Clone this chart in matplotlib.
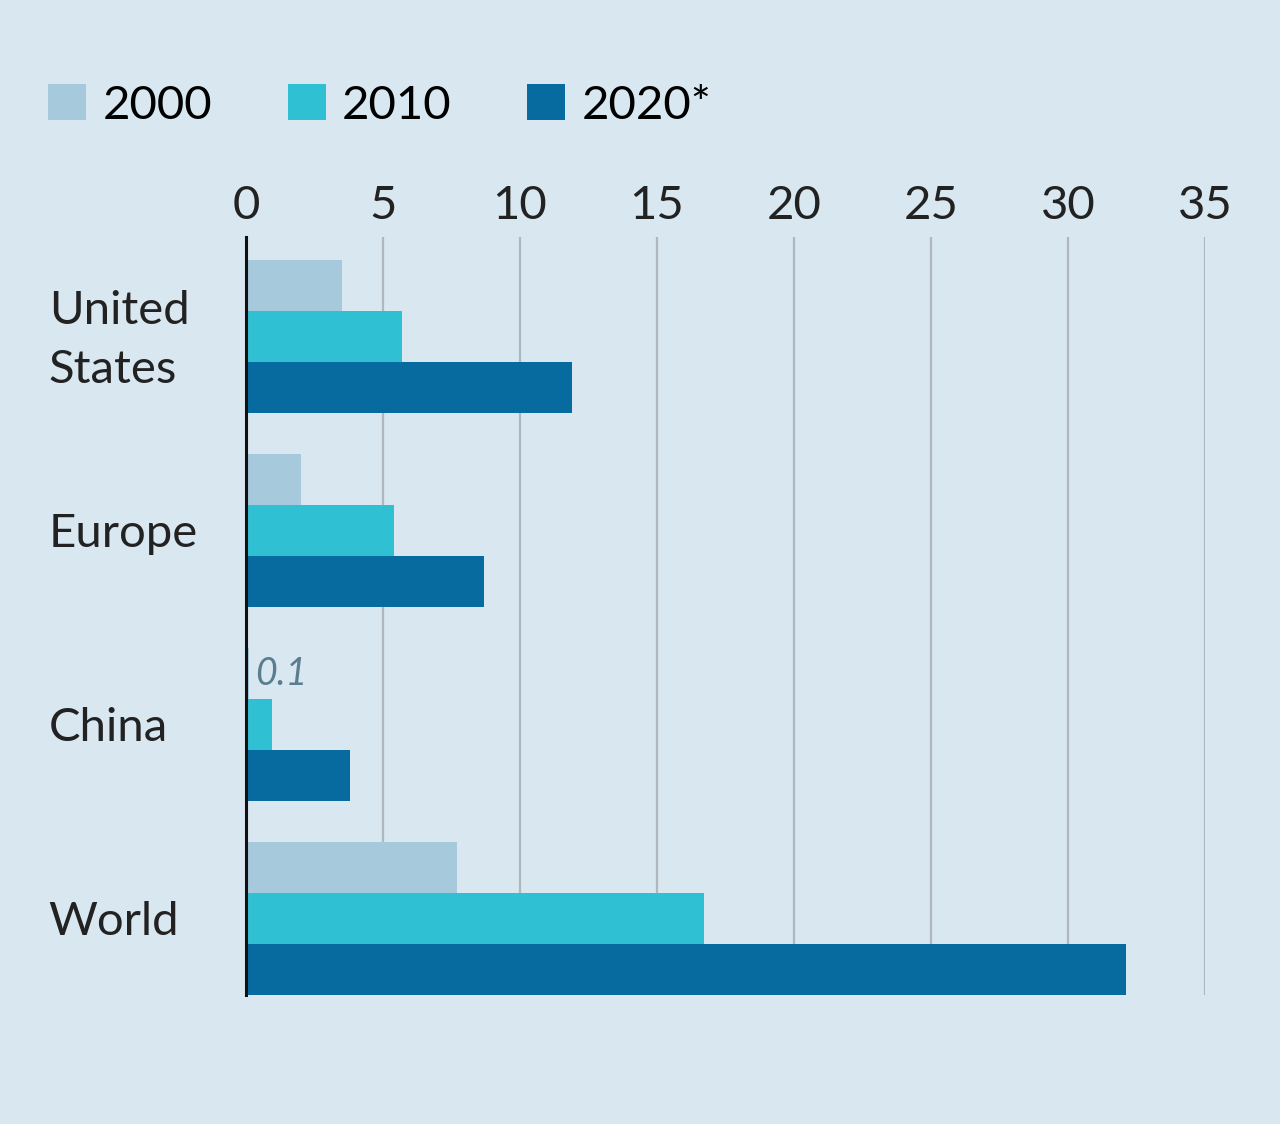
import matplotlib.pyplot as plt
from matplotlib.transforms import blended_transform_factory

plt.rcParams["font.family"] = ["Lato", "DejaVu Sans"]

# data
regions = ["United\nStates", "Europe", "China", "World"]
years = ["2000", "2010", "2020*"]
v2000 = [3.5, 2.0, 0.1, 7.7]
v2010 = [5.7, 5.4, 0.95, 16.7]
v2020 = [11.9, 8.7, 3.8, 32.1]
xticks = [0, 5, 10, 15, 20, 25, 30, 35]

colors = ["#a6c9db", "#2fc0d3", "#076b9f"]
bg = "#d8e7f0"


def main():
    fig = plt.figure(figsize=(12.8, 11.24), dpi=100, facecolor=bg)
    ax = fig.add_axes([0.1922, 0.1148, 0.7492, 0.6743])
    ax.set_facecolor(bg)

    h = 0.263  # bar height, group spacing = 1
    series = [v2000, v2010, v2020]
    bars = []
    for k, (vals, c, lab) in enumerate(zip(series, colors, years)):
        ys = [i + (k - 1) * h for i in range(len(regions))]
        b = ax.barh(ys, vals, height=h, color=c, label=lab, zorder=2)
        bars.append(b)

    ax.set_xlim(0, 35)
    ax.set_ylim(3 + 1.5 * h, -1.5 * h - 0.119)

    # gridlines + axis
    ax.set_xticks(xticks)
    ax.xaxis.tick_top()
    ax.tick_params(axis="x", length=0, pad=7, labelsize=34, labelcolor="#222222")
    ax.set_yticks([])
    ax.grid(axis="x", color="#b0b8be", linewidth=1.6, zorder=1)
    for s in ["top", "right", "bottom"]:
        ax.spines[s].set_visible(False)
    ax.spines["left"].set_linewidth(2.2)
    ax.spines["left"].set_color("#111111")
    ax.spines["left"].set_zorder(3)

    # region labels, left aligned in the margin
    trans = blended_transform_factory(fig.transFigure, ax.transData)
    for i, r in enumerate(regions):
        ax.text(0.038, i + 0.02, r, transform=trans, ha="left", va="center",
                fontsize=34, color="#222222", linespacing=1.5)

    # small value label for China 2000
    ax.text(v2000[2] + 0.25, 2 - h, "0.1", ha="left", va="center",
            fontsize=27, style="italic", color="#5a7d92")

    fig.legend(handles=bars, labels=years, loc="upper left",
               bbox_to_anchor=(0.023, 0.942), ncol=3, frameon=False,
               fontsize=34, handlelength=0.8, handleheight=0.8,
               handletextpad=0.35, columnspacing=1.6, borderaxespad=0)

    fig.savefig("out.png", dpi=100, facecolor=bg)


if __name__ == "__main__":
    main()
